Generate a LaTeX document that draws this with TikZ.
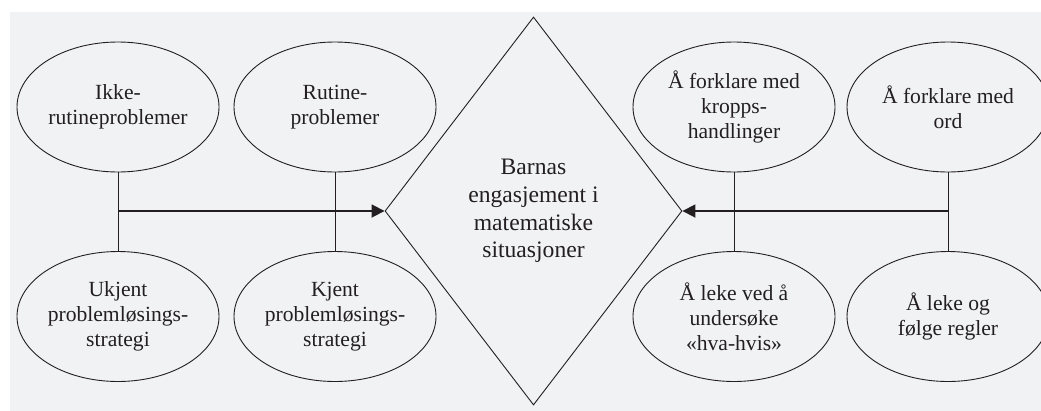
\documentclass[tikz,border=0pt]{standalone}
\usepackage{fontspec}
\setmainfont{Liberation Serif}
\usetikzlibrary{shapes.geometric,arrows.meta}
\definecolor{bggray}{RGB}{241,242,244}
\definecolor{ink}{RGB}{35,31,32}
\tikzset{
  oval/.style={draw=ink, line width=0.9pt, shape=ellipse, minimum width=202pt, minimum height=130pt,
    inner sep=0pt, align=center, text=ink, font=\fontsize{21.6}{25}\selectfont},
  centre/.style={draw=ink, line width=0.9pt, shape=diamond, minimum width=297pt, minimum height=388pt,
    inner sep=0pt, align=center, text=ink, font=\fontsize{23.6}{27.8}\selectfont},
  thin/.style={draw=ink, line width=0.9pt},
  thick arrow/.style={draw=ink, line width=1.8pt, -{Triangle[length=13pt,width=13pt]}}
}
\begin{document}
\begin{tikzpicture}[x=1pt,y=-1pt]
\useasboundingbox (0,0) rectangle (1041,410);
\fill[bggray] (10,12) rectangle (1045,412);
% ellipses
\node[oval] (e1) at (118,107) {Ikke-\\rutineproblemer};
\node[oval] (e2) at (335,107) {Rutine-\\problemer};
\node[oval] (e3) at (118,316.5) {Ukjent\\problemløsings-\\strategi};
\node[oval] (e4) at (335,316.5) {Kjent\\problemløsings-\\strategi};
\node[oval] (e5) at (734,107) {Å forklare med\\kropps-\\handlinger};
\node[oval] (e6) at (948,107) {Å forklare med\\ord};
\node[oval] (e7) at (734,316.5) {Å leke ved å\\undersøke\\«hva-hvis»};
\node[oval] (e8) at (948,316.5) {Å leke og\\følge regler};
% diamond
\node[centre] (d) at (533.5,211) {Barnas\\engasjement i\\matematiske\\situasjoner};
% connectors
\draw[thin] (e1.south) -- (e3.north);
\draw[thin] (e2.south) -- (e4.north);
\draw[thin] (e5.south) -- (e7.north);
\draw[thin] (e6.south) -- (e8.north);
\coordinate (lj) at (118,211);
\coordinate (rj) at (948,211);
\draw[thick arrow] (lj) -- (d.west);
\draw[thick arrow] (rj) -- (d.east);
\end{tikzpicture}
\end{document}
